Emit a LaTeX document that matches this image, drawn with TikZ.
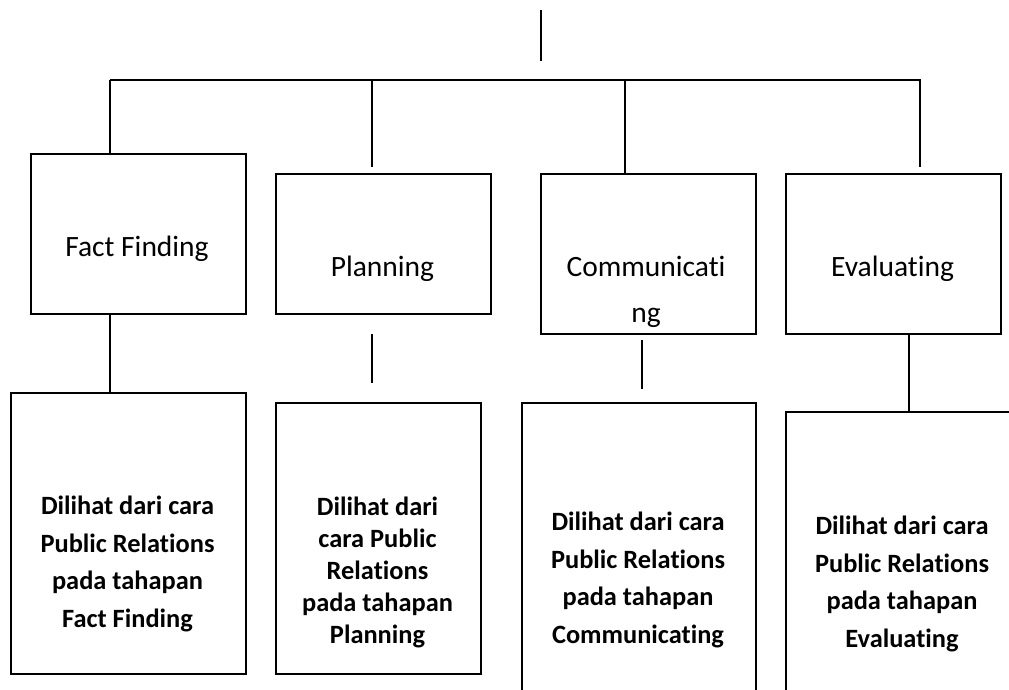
\documentclass[tikz,border=0pt]{standalone}
\usepackage{fontspec}
\setmainfont{Carlito}[Ligatures={NoCommon}]
\begin{document}
\begin{tikzpicture}[x=1pt,y=-1pt,
  box/.style={draw=black,line width=1.6pt,rectangle,inner sep=0pt,anchor=north west},
  conn/.style={draw=black,line width=1.2pt},
  bar/.style={draw=black,line width=1.9pt},
  toplabel/.style={inner sep=0pt,anchor=base,align=center,font=\fontsize{29.5}{46}\selectfont},
  botlabel/.style={inner sep=0pt,anchor=base,align=center,font=\bfseries\fontsize{26.4}{37.5}\selectfont},
  botlabeltight/.style={botlabel,font=\bfseries\fontsize{26.4}{32}\selectfont}]
\clip (0,0) rectangle (1009,689);
\fill[white] (0,0) rectangle (1009,689);
% top stub
\coordinate (s1) at (541,10);
\coordinate (s2) at (541,61);
\draw[conn] (s1) -- (s2);
% horizontal bar
\coordinate (hl) at (110,80);
\coordinate (hr) at (921,80);
\draw[bar] (hl) -- (hr);
% top boxes
\node[box,minimum width=215pt,minimum height=160pt] (ff) at (30,153) {};
\node[box,minimum width=215pt,minimum height=140pt] (pl) at (275,173) {};
\node[box,minimum width=215pt,minimum height=160pt] (co) at (540,173) {};
\node[box,minimum width=215pt,minimum height=160pt] (ev) at (785,173) {};
% bottom boxes
\node[box,minimum width=235pt,minimum height=281pt] (bff) at (10,392) {};
\node[box,minimum width=205pt,minimum height=271pt] (bpl) at (275,402) {};
\node[box,minimum width=234pt,minimum height=300pt] (bco) at (521,402) {};
\node[box,minimum width=240pt,minimum height=300pt] (bev) at (785,411) {};
% drops from bar
\coordinate (d1) at (110,80);
\coordinate (d2) at (372,80);
\coordinate (d2e) at (372,167);
\coordinate (d3) at (625,80);
\coordinate (d4) at (920,80);
\coordinate (d4e) at (920,167);
\draw[conn] (d1) -- (d1 |- ff.north);
\draw[conn] (d2) -- (d2e);
\draw[conn] (d3) -- (d3 |- co.north);
\draw[conn] (d4) -- (d4e);
% lower connectors
\coordinate (u1) at (110,313);
\draw[conn] (u1) -- (u1 |- bff.north);
\coordinate (u2a) at (372,334);
\coordinate (u2b) at (372,383);
\draw[conn] (u2a) -- (u2b);
\coordinate (u3a) at (642,340);
\coordinate (u3b) at (642,389);
\draw[conn] (u3a) -- (u3b);
\coordinate (u4) at (909,333);
\draw[conn] (u4) -- (u4 |- bev.north);
% top labels (anchor = baseline of last line)
\node[toplabel] (tff) at (137,256) {Fact Finding};
\node[toplabel] (tpl) at (382.5,276) {Planning};
\node[toplabel] (tco) at (646,322) {Communicati\\ng};
\node[toplabel] (tev) at (892.5,276) {Evaluating};
% bottom labels (anchor = baseline of last line)
\node[botlabel] (lff) at (127.5,627) {Dilihat dari cara\\Public Relations\\pada tahapan\\Fact Finding};
\node[botlabeltight] (lpl) at (377.5,643) {Dilihat dari\\cara Public\\Relations\\pada tahapan\\Planning};
\node[botlabel] (lco) at (638,643) {Dilihat dari cara\\Public Relations\\pada tahapan\\Communicating};
\node[botlabel] (lev) at (902,647) {Dilihat dari cara\\Public Relations\\pada tahapan\\Evaluating};
\end{tikzpicture}
\end{document}
